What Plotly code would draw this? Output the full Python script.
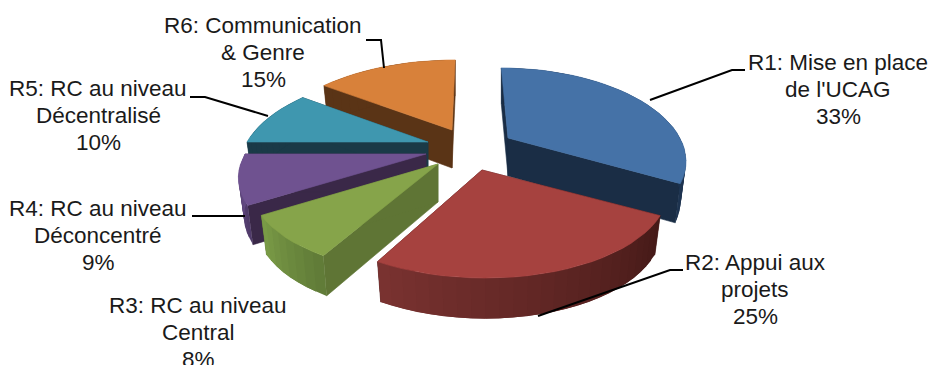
import math
import plotly.graph_objects as go

CATEGORIES = ["R1: Mise en place de l'UCAG", "R2: Appui aux projets", "R3: RC au niveau Central",
              "R4: RC au niveau Déconcentré", "R5: RC au niveau Décentralisé", "R6: Communication & Genre"]
VALUES = [33, 25, 8, 9, 10, 15]
LABEL_LINES = [["R1: Mise en place", "de l'UCAG"], ["R2: Appui aux", "projets"], ["R3: RC au niveau", "Central"],
               ["R4: RC au niveau", "Déconcentré"], ["R5: RC au niveau", "Décentralisé"], ["R6: Communication", "& Genre"]]

# styles
TOP = ["#4572a7", "#a6423f", "#86a44a", "#6f5290", "#3f97af", "#d8813a"]
SIDE = ["#1a2d45", "#451a18", "#5f7535", "#3a2848", "#1a3a47", "#5a3416"]
RIM_A = ["#1a2d45", "#451a18", "#5f7a37", "#4f3a68", "#1a3a47", "#5a3416"]
RIM_B = ["#1e3450", "#7a3230", "#7b9c47", "#6a4f8c", "#1a3a47", "#5a3416"]
APEX = [(508, 138), (482, 170), (438, 164), (426, 154), (428, 142), (452, 130)]
A_SCALE = [0.95, 1, 1, 1, 1, 1]
LABEL_POS = [(838, 62), (755, 262), (198, 305), (98, 208), (98, 88), (263, 25)]
LEADERS = [[(650, 100), (732, 70), (745, 70)], [(538, 316), (670, 270), (683, 270)], None,
           [(245, 216), (192, 216)], [(268, 116), (205, 97), (190, 97)], [(384, 68), (381, 40), (366, 40)]]
DRAW_ORDER = [5, 0, 4, 3, 2, 1]
A, B, P, DEPTH, X0 = 181.0, 85.0, 0.2135, 38.0, 470.0

def hex2rgb(h):
    return [int(h[i:i + 2], 16) for i in (1, 3, 5)]

def mix(a, b, t):
    ca, cb = hex2rgb(a), hex2rgb(b)
    return "rgb(%d,%d,%d)" % tuple(round(x + (y - x) * t) for x, y in zip(ca, cb))

def top_pt(i, r, th):
    ax, ay = APEX[i]
    u, v = r * math.sin(th), r * math.cos(th)
    s = 1 / (1 + P * v)
    return (X0 + (ax - X0 + A * A_SCALE[i] * u) * s, ay - B * v * s)

def bot_pt(i, r, th):
    ax, ay = APEX[i]
    u, v = r * math.sin(th), r * math.cos(th)
    s = 1 / (1 + P * v)
    return (X0 + (ax - X0 + 0.97 * A * A_SCALE[i] * u) * s, ay - 0.97 * B * v * s + DEPTH * s ** 0.6)

fig = go.Figure()

def poly(pts, color, lw=0.6):
    xs = [p[0] for p in pts] + [pts[0][0]]
    ys = [p[1] for p in pts] + [pts[0][1]]
    fig.add_trace(go.Scatter(x=xs, y=ys, mode="lines", fill="toself", fillcolor=color,
                             line=dict(color=color, width=lw), hoverinfo="skip", showlegend=False))

total = sum(VALUES)
starts, acc = [], 0.0
for val in VALUES:
    starts.append(acc / total * 2 * math.pi)
    acc += val

for i in DRAW_ORDER:
    t0 = starts[i]
    t1 = t0 + VALUES[i] / total * 2 * math.pi
    n = max(6, int(VALUES[i]))
    ths = [t0 + (t1 - t0) * k / n for k in range(n + 1)]
    for th in (t0, t1):
        poly([top_pt(i, 0, th), top_pt(i, 1, th), bot_pt(i, 1, th), bot_pt(i, 0, th)], SIDE[i])
    for k in range(n):
        c = mix(RIM_A[i], RIM_B[i], (k + 0.5) / n)
        t2 = ths[min(k + 2, n)]  # overlap the next band to hide seams
        poly([top_pt(i, 1, ths[k]), top_pt(i, 1, t2), bot_pt(i, 1, t2), bot_pt(i, 1, ths[k])], c, lw=0)
    poly([top_pt(i, 0, t0)] + [top_pt(i, 1, th) for th in ths], TOP[i])

for pts in LEADERS:
    if pts:
        fig.add_trace(go.Scatter(x=[p[0] for p in pts], y=[p[1] for p in pts], mode="lines",
                                 line=dict(color="#000000", width=2), hoverinfo="skip", showlegend=False))

anns = []
for i, lines in enumerate(LABEL_LINES):
    x, y = LABEL_POS[i]
    pct = round(VALUES[i] / total * 100)
    for j, text in enumerate(lines + ["%d%%" % pct]):
        anns.append(dict(x=x, y=y + j * 27, text=text, showarrow=False, xanchor="center", yanchor="middle",
                         font=dict(family="Liberation Sans", size=22.5, color="#1a1a1a")))

fig.update_layout(width=930, height=365, margin=dict(l=0, r=0, t=0, b=0),
                  paper_bgcolor="white", plot_bgcolor="white", showlegend=False, annotations=anns,
                  xaxis=dict(range=[0, 930], visible=False, fixedrange=True),
                  yaxis=dict(range=[365, 0], visible=False, fixedrange=True))
fig.write_html("out.html", config={"displayModeBar": False}, default_width="930px", default_height="365px",
               post_script="document.body.style.margin='0';document.documentElement.style.overflow='hidden';")
